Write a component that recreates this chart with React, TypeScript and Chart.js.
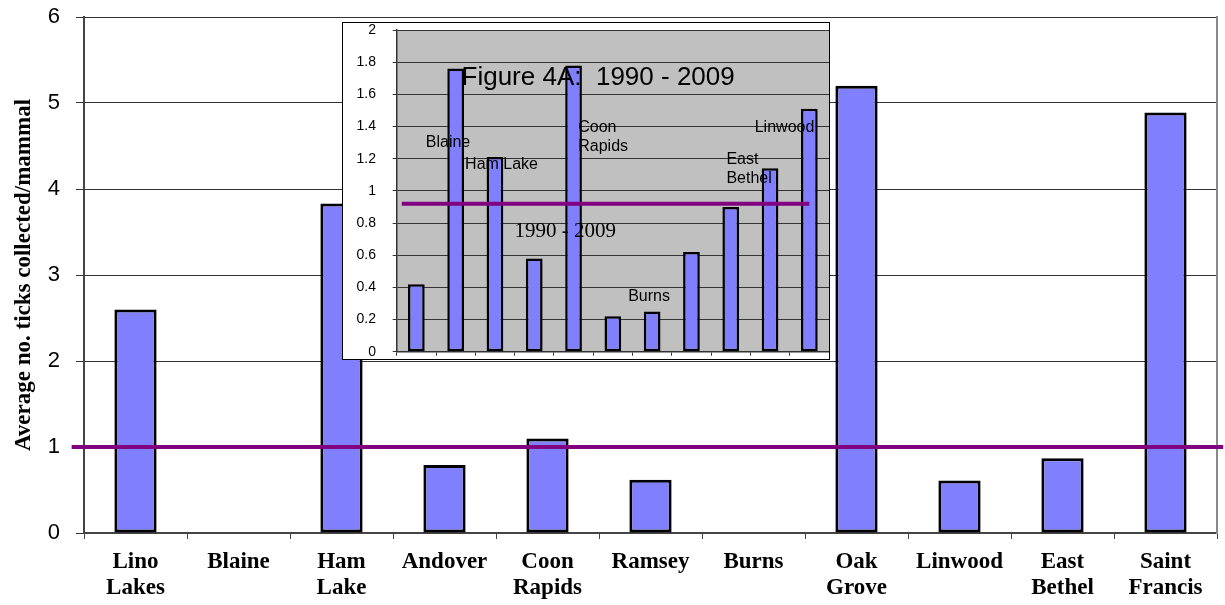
import React, { useEffect, useRef } from 'react';
import { Chart, registerables } from 'chart.js';

Chart.register(...registerables);

// ---- Main chart data ----
const mainCategories: (string | string[])[] = [
  ['Lino', 'Lakes'], 'Blaine', ['Ham', 'Lake'], 'Andover', ['Coon', 'Rapids'],
  'Ramsey', 'Burns', ['Oak', 'Grove'], 'Linwood', ['East', 'Bethel'], ['Saint', 'Francis'],
];
const mainValues = [2.6, 0, 3.83, 0.79, 1.1, 0.62, 0, 5.2, 0.61, 0.87, 4.89];
const mainReference = 1.0;
const mainReferenceSpan = [-0.62, 10.56];
const mainYTicks = [0, 1, 2, 3, 4, 5, 6];
const mainYTitle = 'Average no. ticks collected/mammal';

// ---- Inset chart data (Figure 4A: 1990 - 2009) ----
const insetCategories = [
  'Lino Lakes', 'Blaine', 'Ham Lake', 'Andover', 'Coon Rapids', 'Ramsey',
  'Burns', 'Oak Grove', 'Linwood', 'East Bethel', 'Saint Francis',
];
const insetValues = [0.42, 1.76, 1.21, 0.58, 1.78, 0.22, 0.25, 0.62, 0.9, 1.14, 1.51];
const insetReference = 0.92;
const insetReferenceSpan = [-0.37, 10.0];
const insetYTicks = [0, 0.2, 0.4, 0.6, 0.8, 1, 1.2, 1.4, 1.6, 1.8, 2];

const SANS = '"Liberation Sans", Arial, sans-serif';
const SERIF = '"Liberation Serif", "Times New Roman", serif';

// annotation texts anchored in data coordinates (category index, value)
const insetNotes = [
  { text: 'Figure 4A:  1990 - 2009', at: 1.15, value: 1.66, font: `26px ${SANS}` },
  { text: 'Blaine', at: 0.24, value: 1.27, font: `16px ${SANS}` },
  { text: 'Ham Lake', at: 1.24, value: 1.136, font: `16px ${SANS}` },
  { text: 'Coon', at: 4.12, value: 1.364, font: `16px ${SANS}` },
  { text: 'Rapids', at: 4.12, value: 1.248, font: `16px ${SANS}` },
  { text: '1990 - 2009', at: 2.5, value: 0.715, font: `21px ${SERIF}` },
  { text: 'Burns', at: 5.39, value: 0.315, font: `16px ${SANS}` },
  { text: 'East', at: 7.89, value: 1.165, font: `16px ${SANS}` },
  { text: 'Bethel', at: 7.89, value: 1.047, font: `16px ${SANS}` },
  { text: 'Linwood', at: 8.61, value: 1.364, font: `16px ${SANS}` },
];

const insetBg = {
  id: 'insetBg',
  beforeDraw(chart: any) {
    const { ctx, chartArea: a, width, height } = chart;
    ctx.save();
    ctx.fillStyle = '#ffffff';
    ctx.fillRect(0, 0, width, height);
    ctx.fillStyle = '#C0C0C0';
    ctx.fillRect(a.left, a.top, a.right - a.left, a.bottom - a.top);
    ctx.restore();
  },
};

const insetText = {
  id: 'insetText',
  afterDatasetsDraw(chart: any) {
    const xs = chart.scales.xl;
    const ys = chart.scales.y;
    const ctx = chart.ctx;
    ctx.save();
    ctx.textAlign = 'left';
    ctx.textBaseline = 'alphabetic';
    ctx.fillStyle = '#000';
    for (const n of insetNotes) {
      ctx.font = n.font;
      ctx.fillText(n.text, xs.getPixelForValue(n.at), ys.getPixelForValue(n.value));
    }
    ctx.restore();
  },
};

const fitY = (w: number) => (s: any) => {
  s.width = w;
  s.paddingTop = 0;
  s.paddingBottom = 0;
};
const fitX = (h: number) => (s: any) => {
  s.height = h;
  s.paddingLeft = 0;
  s.paddingRight = 0;
};

export default function App() {
  const mainRef = useRef<HTMLCanvasElement>(null);
  const insetRef = useRef<HTMLCanvasElement>(null);

  useEffect(() => {
    const main = new Chart(mainRef.current as HTMLCanvasElement, {
      type: 'bar',
      data: {
        labels: mainCategories,
        datasets: [
          {
            type: 'line',
            data: mainReferenceSpan.map((x) => ({ x, y: mainReference })),
            xAxisID: 'xl',
            yAxisID: 'y',
            borderColor: '#800080',
            borderWidth: 4,
            pointRadius: 0,
            fill: false,
            clip: false,
            order: 0,
          } as any,
          {
            type: 'bar',
            data: mainValues,
            xAxisID: 'x',
            yAxisID: 'y',
            backgroundColor: '#8080FF',
            borderColor: '#000',
            borderWidth: (c: any) => (c.raw === 0 ? 0 : 3),
            borderSkipped: false,
            grouped: false,
            barPercentage: 0.41,
            categoryPercentage: 1,
            order: 1,
          } as any,
        ],
      },
      options: {
        animation: false,
        responsive: false,
        layout: { padding: { top: 17, right: 8, left: 0, bottom: 0 } },
        plugins: { legend: { display: false }, tooltip: { enabled: false } },
        scales: {
          x: {
            type: 'category',
            offset: true,
            grid: { drawOnChartArea: false, drawTicks: true, tickLength: 6, color: '#444', offset: true },
            border: { color: '#444', width: 2 },
            ticks: {
              color: '#000',
              autoSkip: false,
              maxRotation: 0,
              padding: 10,
              font: { family: SERIF, size: 23, weight: 'bold', lineHeight: 1.13 },
            },
            afterFit: fitX(72),
          },
          xl: { type: 'linear', display: false, min: -0.5, max: 10.5, offset: false },
          y: {
            min: 0,
            max: 6,
            afterBuildTicks: (s: any) => { s.ticks = mainYTicks.map((v) => ({ value: v })); },
            ticks: { color: '#000', padding: 16, font: { family: SANS, size: 22 } },
            grid: { color: '#333', lineWidth: 1, tickLength: 8 },
            border: { color: '#444', width: 2 },
            title: {
              display: true,
              text: mainYTitle,
              color: '#000',
              font: { family: SERIF, size: 23, weight: 'bold' },
              padding: { top: 10, bottom: 0 },
            },
            afterFit: fitY(84),
          },
          yr: {
            position: 'right',
            ticks: { display: false },
            grid: { drawOnChartArea: false, drawTicks: false },
            border: { color: '#888', width: 2 },
            afterFit: fitY(0),
          },
        },
      } as any,
    });

    const inset = new Chart(insetRef.current as HTMLCanvasElement, {
      type: 'bar',
      data: {
        labels: insetCategories,
        datasets: [
          {
            type: 'line',
            data: insetReferenceSpan.map((x) => ({ x, y: insetReference })),
            xAxisID: 'xl',
            yAxisID: 'y',
            borderColor: '#800080',
            borderWidth: 4,
            pointRadius: 0,
            fill: false,
            clip: false,
            order: 0,
          } as any,
          {
            type: 'bar',
            data: insetValues,
            xAxisID: 'x',
            yAxisID: 'y',
            backgroundColor: '#8080FF',
            borderColor: '#000',
            borderWidth: 2.5,
            borderSkipped: false,
            grouped: false,
            barPercentage: 0.425,
            categoryPercentage: 1,
            order: 1,
          } as any,
        ],
      },
      options: {
        animation: false,
        responsive: false,
        layout: { padding: { top: 7, right: 0, left: 0, bottom: 0 } },
        plugins: { legend: { display: false }, tooltip: { enabled: false } },
        scales: {
          x: {
            type: 'category',
            offset: true,
            grid: { drawOnChartArea: false, drawTicks: true, tickLength: 4, color: '#333', offset: true },
            border: { color: '#333', width: 1.5 },
            ticks: { display: false },
            afterFit: fitX(7.3),
          },
          xl: { type: 'linear', display: false, min: -0.5, max: 10.5, offset: false },
          y: {
            min: 0,
            max: 2,
            afterBuildTicks: (s: any) => { s.ticks = insetYTicks.map((v) => ({ value: v })); },
            ticks: {
              color: '#000',
              padding: 16.7,
              font: { family: SANS, size: 14, lineHeight: 1 },
              callback: (v: any) => String(+Number(v).toFixed(1)),
            },
            grid: { color: '#333', lineWidth: 1, tickLength: 4 },
            border: { color: '#333', width: 1.5 },
            afterFit: fitY(53.7),
          },
        },
      } as any,
      plugins: [insetBg, insetText],
    });

    return () => {
      main.destroy();
      inset.destroy();
    };
  }, []);

  return (
    <div style={{ position: 'absolute', left: 0, top: 0, width: 1225, height: 605, background: '#fff' }}>
      <canvas ref={mainRef} width={1225} height={605} style={{ position: 'absolute', left: 0, top: 0, display: 'block' }} />
      <canvas
        ref={insetRef}
        width={486}
        height={336}
        style={{ position: 'absolute', left: 343, top: 23, display: 'block', outline: '1px solid #000' }}
      />
    </div>
  );
}
